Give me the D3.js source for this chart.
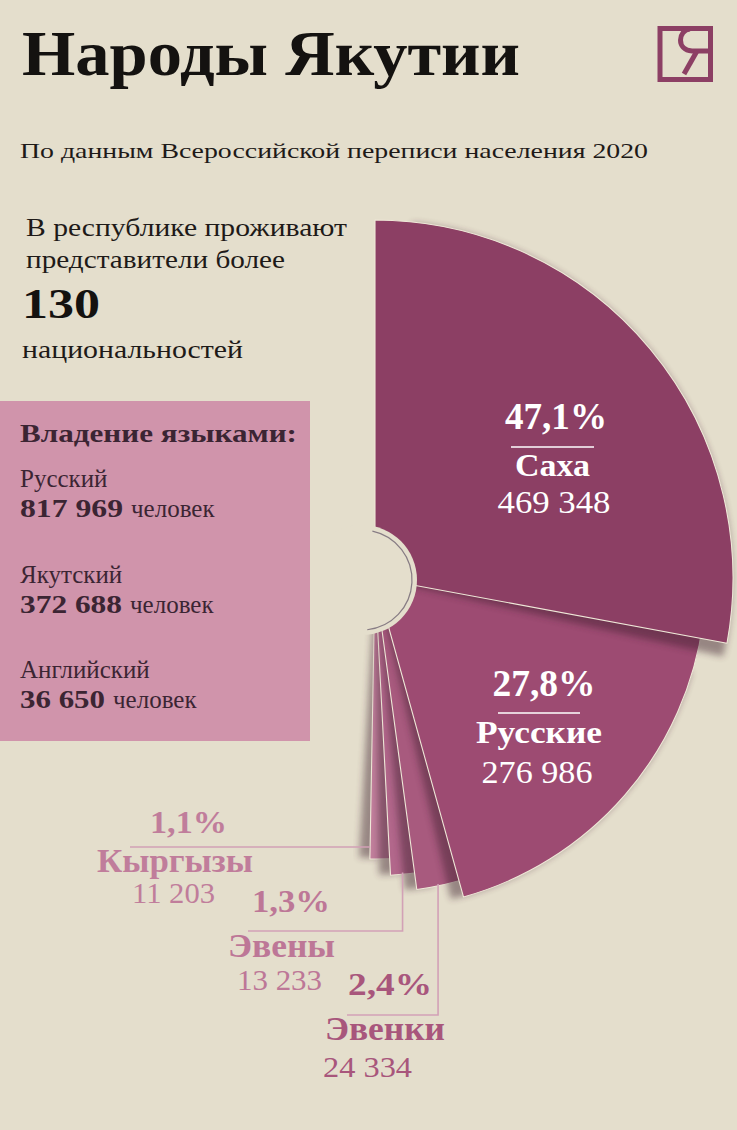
<!DOCTYPE html>
<html>
<head>
<meta charset="utf-8">
<script src="https://cdn.jsdelivr.net/npm/d3@7"></script>
<style>
	html, body { margin: 0; padding: 0; background: #e4decc; }
	svg { display: block; }
	text { font-family: "Liberation Serif", "DejaVu Serif", serif; }
</style>
</head>
<body>
<svg id="chart" width="737" height="1130"></svg>
<script>
// Census 2020 data (Yakutia)
var Group_Names = ["Саха", "Русские", "Эвенки", "Эвены", "Кыргызы"];
var Group_Share = [47.1, 27.8, 2.4, 1.3, 1.1];
var Group_Count = [469348, 276986, 24334, 13233, 11203];

var Language_Names = ["Русский", "Якутский", "Английский"];
var Language_Speakers = [817969, 372688, 36650];

var Nationalities_Count = 130;

/* ------------------------------ Setup ------------------------------ */
var W = 737, H = 1130;
var BG = "#e4decc";
var svg = d3.select('#chart');

svg.append('rect').attr('width', W).attr('height', H).attr('fill', BG);

var ru = d3.formatLocale({ decimal: ",", thousands: " ", grouping: [3], currency: ["", ""] });
var fmtCount = ru.format(",d");
var fmtShare = function(v) { return ru.format(".1f")(v) + "%"; };

// small helper for text, optional fitted width
function addText(parent, str, x, y, size, weight, fill, anchor, len) {
	var t = parent.append('text')
		.attr('x', x).attr('y', y)
		.attr('font-size', size)
		.attr('font-weight', weight)
		.attr('fill', fill)
		.attr('text-anchor', anchor || 'start')
		.text(str);
	if (len) t.attr('textLength', len).attr('lengthAdjust', 'spacingAndGlyphs');
	return t;
}

var defs = svg.append('defs');
defs.append('filter').attr('id', 'blur')
	.attr('x', '-30%').attr('y', '-30%').attr('width', '160%').attr('height', '160%')
	.append('feGaussianBlur').attr('stdDeviation', 3.5);

/* ------------------------------ Header ------------------------------ */
addText(svg, "Народы Якутии", 22, 75, 64, 'bold', '#141210', 'start', 498);
addText(svg, "По данным Всероссийской переписи населения 2020", 20, 158, 21, 'normal', '#1e1a18', 'start', 628);

// logo
var logo = svg.append('g').attr('fill', 'none').attr('stroke', '#8c3f64').attr('stroke-width', 5);
logo.append('rect').attr('x', 660).attr('y', 28.5).attr('width', 50.5).attr('height', 51);
logo.append('path').attr('d', 'M690,29 C678,30 676,50 692,51 L708,51');
logo.append('path').attr('d', 'M697,51 L684,74');

/* ------------------------------ Left texts ------------------------------ */
addText(svg, "В республике проживают", 26, 236, 26, 'normal', '#1e1a18', 'start', 321);
addText(svg, "представители более", 26, 268, 26, 'normal', '#1e1a18', 'start', 259);
addText(svg, Nationalities_Count, 22, 318, 42, 'bold', '#141210', 'start', 78);
addText(svg, "национальностей", 22, 358, 26, 'normal', '#1e1a18', 'start', 221);

/* ------------------------------ Fan chart ------------------------------ */
var cx = 375, cy = 578;
var toRad = Math.PI / 180;

// angle per share (pow scale keeps the tiny groups visible)
var angleScale = d3.scalePow().exponent(0.856).domain([0, Group_Share[0]]).range([0, 100.5]);
// each card lies a bit shorter than the one above
var radiusScale = d3.scaleLinear().domain([0, 1, 4]).range([358, 331, 281]);
var colorScale = d3.scaleOrdinal().domain(Group_Names)
	.range(["#8c3f64", "#9d4b72", "#a85a7e", "#b2678b", "#c2809d"]);

var cum = 0;
var slices = Group_Names.map(function(name, i) {
	var a0 = cum;
	cum += angleScale(Group_Share[i]);
	return { name: name, i: i, a0: a0, a1: cum, share: Group_Share[i], count: Group_Count[i] };
});

var arc = d3.arc()
	.innerRadius(0)
	.outerRadius(function(d) { return radiusScale(d.i); })
	.startAngle(function(d) { return (d.i === 0 ? d.a0 : d.a0 - 3) * toRad; })
	.endAngle(function(d) { return d.a1 * toRad; });

var shadowArc = d3.arc()
	.innerRadius(0)
	.outerRadius(function(d) { return radiusScale(d.i) - 1; })
	.startAngle(function(d) { return (d.a0 + Math.min(6, (d.a1 - d.a0) * 0.6)) * toRad; })
	.endAngle(function(d) { return (d.a1 + 2.2) * toRad; });

var fan = svg.append('g').attr('transform', 'translate(' + cx + ',' + cy + ')');

// draw bottom card first, each with its shadow
slices.slice().reverse().forEach(function(d) {
	fan.append('path')
		.attr('d', shadowArc(d))
		.attr('fill', '#3a1a2c')
		.attr('opacity', 0.45)
		.attr('filter', 'url(#blur)');
	fan.append('path')
		.attr('class', 'slice')
		.attr('d', arc(d))
		.attr('fill', colorScale(d.name))
		.attr('stroke', '#efe8d8')
		.attr('stroke-width', 1.1)
		.attr('stroke-linejoin', 'round');
});

// hub
svg.append('circle').attr('cx', 362).attr('cy', 580).attr('r', 55).attr('fill', BG);
svg.append('path')
	.attr('transform', 'translate(362,580)')
	.attr('d', d3.arc().innerRadius(50).outerRadius(50).startAngle(12 * toRad).endAngle(174 * toRad)())
	.attr('fill', 'none').attr('stroke', '#877c84').attr('stroke-width', 1.2);

/* ------------------------------ Languages box ------------------------------ */
var box = svg.append('g');
box.append('rect').attr('x', 0).attr('y', 401).attr('width', 310).attr('height', 340).attr('fill', '#d094ab');
addText(box, "Владение языками:", 20, 442, 25, 'bold', '#3b2533', 'start', 277);

var langWidths = [103, 102, 85];
Language_Names.forEach(function(name, i) {
	var y0 = 487 + i * 95.5;
	addText(box, name, 20, y0, 25, 'normal', '#3b2533');
	addText(box, fmtCount(Language_Speakers[i]), 20, y0 + 30, 25, 'bold', '#3b2533', 'start', langWidths[i]);
	addText(box, "человек", 20 + langWidths[i] + 8, y0 + 30, 25, 'normal', '#3b2533');
});

/* ------------------------------ Labels ------------------------------ */
// big groups: labels inside the cards
var bigLabels = [
	{ x: 556, y: 429, pw: 102, line: [511, 594, 447], nw: 75, ny: 476, cw: 113, cx: 554, cy: 513 },
	{ x: 544, y: 696, pw: 103, line: [498, 580, 713], nw: 126, ny: 743, cw: 111, cx: 537, cy: 783 }
];
bigLabels.forEach(function(L, i) {
	var d = slices[i];
	addText(svg, fmtShare(d.share), L.x, L.y, 37, 'bold', '#ffffff', 'middle', L.pw);
	svg.append('line')
		.attr('x1', L.line[0]).attr('x2', L.line[1])
		.attr('y1', L.line[2]).attr('y2', L.line[2])
		.attr('stroke', '#ffffff').attr('stroke-width', 1.3);
	addText(svg, d.name, (L.line[0] + L.line[1]) / 2, L.ny, 31, 'bold', '#ffffff', 'middle', L.nw);
	addText(svg, fmtCount(d.count), L.cx, L.cy, 31, 'normal', '#ffffff', 'middle', L.cw);
});

// small groups: labels outside with elbow connectors
var smallLabels = {
	"Кыргызы": { lx: 130, ly: 847, px: 150, py: 833, pw: 77, nx: 97, ny: 872, nw: 156, vx: 132, vy: 903, vw: 83, col: '#c07d9b' },
	"Эвены":   { lx: 248, ly: 931, px: 252, py: 912, pw: 78, nx: 228, ny: 957, nw: 107, vx: 237, vy: 990, vw: 85, col: '#bd7797' },
	"Эвенки":  { lx: 347, ly: 1015, px: 348, py: 995, pw: 84, nx: 325, ny: 1040, nw: 120, vx: 323, vy: 1077, vw: 89, col: '#a8567c' }
};
var lineColor = '#d2a1b6';

slices.slice(2).forEach(function(d) {
	var L = smallLabels[d.name];
	var r = radiusScale(d.i);
	var pts;
	if (d.name === "Кыргызы") {
		// hits the free edge of the last card
		var a = d.a1 * toRad;
		var t = (L.ly - cy) / (-Math.cos(a));
		var ex = cx + t * Math.sin(a);
		pts = [[L.lx, L.ly], [ex, L.ly]];
	} else {
		var am = (d.a0 + d.a1) / 2 * toRad;
		var ax = cx + r * Math.sin(am), ay = cy - r * Math.cos(am);
		pts = [[L.lx, L.ly], [ax, L.ly], [ax, ay - 2]];
	}
	svg.append('path')
		.attr('d', d3.line()(pts))
		.attr('fill', 'none').attr('stroke', lineColor).attr('stroke-width', 1.6);

	addText(svg, fmtShare(d.share), L.px, L.py, 32, 'bold', L.col, 'start', L.pw);
	addText(svg, d.name, L.nx, L.ny, 33, 'bold', L.col, 'start', L.nw);
	addText(svg, fmtCount(d.count), L.vx, L.vy, 29, 'normal', L.col, 'start', L.vw);
});
</script>
</body>
</html>
